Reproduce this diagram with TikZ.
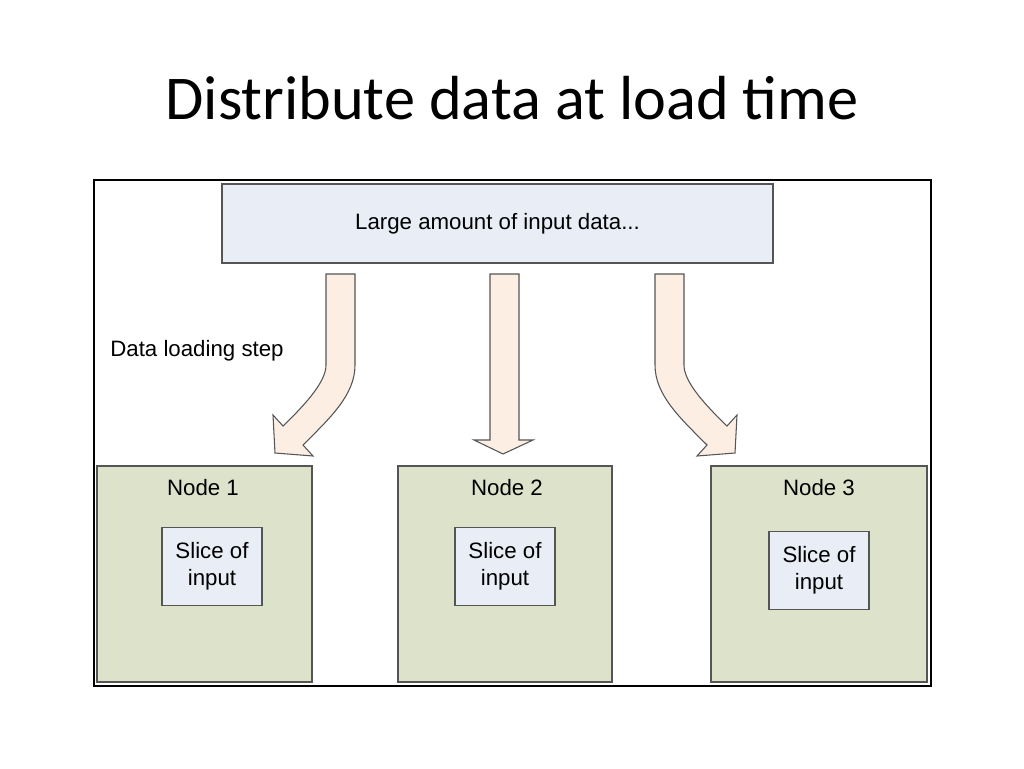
\documentclass[tikz,border=0pt]{standalone}
\usepackage{fontspec}
\setmainfont{Liberation Sans}
\newfontfamily\titlefont{Carlito}
\definecolor{inbox}{HTML}{E9EDF6}
\definecolor{nodegreen}{HTML}{DDE3CB}
\definecolor{flow}{HTML}{FCEEE3}
\definecolor{edge}{HTML}{555555}
\tikzset{
    frame/.style =  {rectangle,
                    draw=black,
                    thick,
                    inner sep=0pt},
    data/.style =   {rectangle,
                    fill=inbox,
                    draw=edge,
                    thick,
                    inner sep=0pt,
                    font=\fontsize{16.7}{20}\selectfont},
    machine/.style ={rectangle,
                    fill=nodegreen,
                    draw=edge,
                    thick,
                    inner sep=0pt},
    slice/.style =  {rectangle,
                    fill=inbox,
                    draw=edge,
                    thick,
                    align=center,
                    inner sep=0pt,
                    minimum width=75pt,
                    minimum height=59pt,
                    font=\fontsize{16.7}{20}\selectfont},
    tag/.style =    {font=\fontsize{16.7}{20}\selectfont},
    flowarrow/.style = {fill=flow,
                    draw=edge,
                    thick,
                    line join=miter}}

\begin{document}
\begin{tikzpicture}[x=0.75pt,y=-0.75pt]
                \useasboundingbox (0,0) rectangle (1024,768);
                \node (title) at (512,98) {\titlefont\fontsize{46.7}{56}\selectfont Distribute data at load time};
                \node[frame] (F) at (512.5,433) [minimum width=627.75pt,minimum height=379.5pt] {};
                \node[data] (D) at (497.5,223.5) [minimum width=413.25pt,minimum height=59.25pt] {Large amount of input data...};
                \node[tag]  (step) at (197,351) {Data loading step};

                \node[machine] (N1) at (204.5,574) [minimum width=161.25pt,minimum height=162pt] {};
                \node[machine] (N2) at (505,574)   [minimum width=160.5pt,minimum height=162pt] {};
                \node[machine] (N3) at (819,574)   [minimum width=162pt,minimum height=162pt] {};
                \node[tag] (L1) at (203,488) {Node 1};
                \node[tag] (L2) at (507,488) {Node 2};
                \node[tag] (L3) at (819,488) {Node 3};
                \node[slice] (S1) at (212,566.5) {Slice of\\input};
                \node[slice] (S2) at (505,566.5) {Slice of\\input};
                \node[slice] (S3) at (819,570.5) {Slice of\\input};

                % block arrows
                \draw[flowarrow] (326,274) -- (355,274) -- (355,365) .. controls (355,395) and (330,418) .. (303,445)
                                 -- (313,456) -- (275,453) -- (273,415) -- (283,426)
                                 .. controls (310,400) and (326,380) .. (326,365) -- cycle;
                \draw[flowarrow] (490,274) -- (519,274) -- (519,440) -- (533,440) -- (503,454) -- (474,440) -- (490,440) -- cycle;
                \draw[flowarrow] (684,274) -- (655,274) -- (655,365) .. controls (655,395) and (680,418) .. (707,445)
                                 -- (697,456) -- (735,453) -- (737,415) -- (727,426)
                                 .. controls (700,400) and (684,380) .. (684,365) -- cycle;
\end{tikzpicture}
\end{document}
